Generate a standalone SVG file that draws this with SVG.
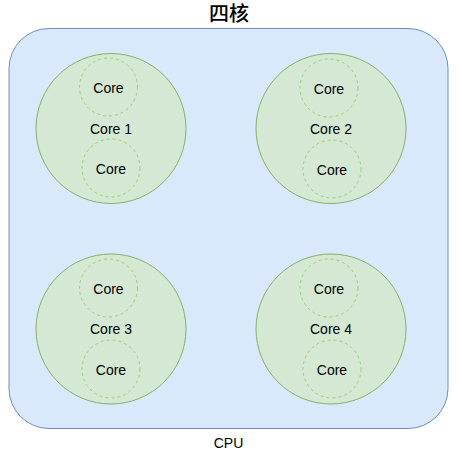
<svg xmlns="http://www.w3.org/2000/svg" width="458" height="452" viewBox="0 0 458 452">
<style>
text{font-family:"Liberation Sans",Arial,"Noto Sans CJK SC",sans-serif;font-size:14px;fill:#000;text-anchor:middle;dominant-baseline:central}
.big{fill:#d5e8d4;stroke:#82b366;stroke-width:1}
.small{fill:#d5e8d4;stroke:#97d077;stroke-width:1;stroke-dasharray:3 3}
</style>
<g id="cpu">
<rect x="9" y="28.5" width="439" height="400" rx="40" ry="40" fill="#dae8fc" stroke="#6c8ebf" stroke-width="1"/>
<text x="228.5" y="443">CPU</text>
</g>
<g id="title"><text x="229" y="14" style="font-size:20px;font-weight:500">四核</text></g>
<g id="core1">
<circle class="big" cx="111" cy="128.5" r="75"/>
<text x="111" y="129">Core 1</text>
</g>
<g id="core1a"><circle class="small" cx="108.5" cy="87" r="29"/><text x="108.5" y="88">Core</text></g>
<g id="core1b"><circle class="small" cx="111" cy="168" r="29"/><text x="111" y="169">Core</text></g>
<g id="core2">
<circle class="big" cx="331" cy="128.5" r="75"/>
<text x="331" y="129">Core 2</text>
</g>
<g id="core2a"><circle class="small" cx="329" cy="88" r="29"/><text x="329" y="89">Core</text></g>
<g id="core2b"><circle class="small" cx="332" cy="169" r="29"/><text x="332" y="170">Core</text></g>
<g id="core3">
<circle class="big" cx="111" cy="329" r="75"/>
<text x="111" y="329">Core 3</text>
</g>
<g id="core3a"><circle class="small" cx="108.5" cy="288" r="29"/><text x="108.5" y="289">Core</text></g>
<g id="core3b"><circle class="small" cx="111" cy="369" r="29"/><text x="111" y="370">Core</text></g>
<g id="core4">
<circle class="big" cx="331" cy="329" r="75"/>
<text x="331" y="329">Core 4</text>
</g>
<g id="core4a"><circle class="small" cx="329" cy="288" r="29"/><text x="329" y="289">Core</text></g>
<g id="core4b"><circle class="small" cx="332" cy="369" r="29"/><text x="332" y="370">Core</text></g>
<g id="connectors"></g>
</svg>
